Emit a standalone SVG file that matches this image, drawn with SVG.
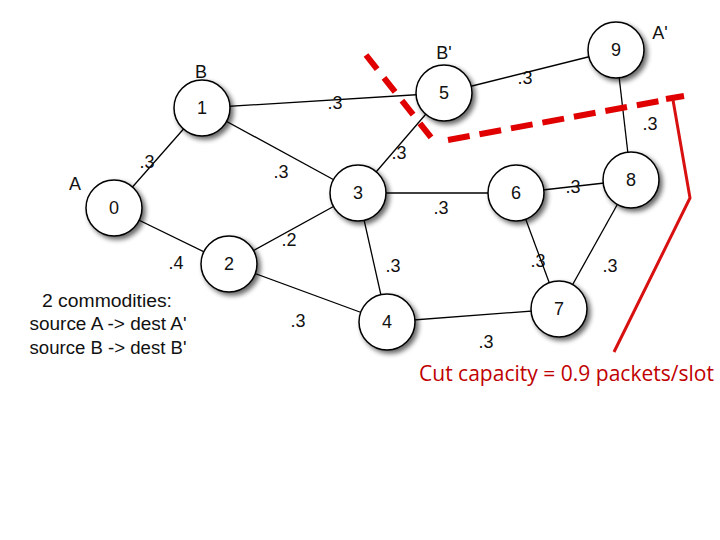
<svg xmlns="http://www.w3.org/2000/svg" width="720" height="540" viewBox="0 0 720 540">
<defs>
<filter id="sh" x="-30%" y="-30%" width="170%" height="170%">
<feGaussianBlur in="SourceAlpha" stdDeviation="2.5"/>
<feOffset dx="3" dy="3" result="b"/>
<feComponentTransfer><feFuncA type="linear" slope="0.6"/></feComponentTransfer>
<feMerge><feMergeNode/><feMergeNode in="SourceGraphic"/></feMerge>
</filter>
<style>
.n circle{fill:#fff;stroke:#000;stroke-width:1.5;filter:url(#sh)}
.n text,.t{font-family:"Liberation Sans",Arial,sans-serif;font-size:18px;fill:#111;text-anchor:middle}
.e line{stroke:#000;stroke-width:1.3}
.cut{stroke:#e00000;stroke-width:6;fill:none}
.br{stroke:#d81010;stroke-width:3;fill:none}
</style>
</defs>
<rect width="720" height="540" fill="#fff"/>
<g id="connectors" class="e">
<line x1="114" y1="208" x2="202" y2="108"/>
<line x1="114" y1="208" x2="229" y2="264"/>
<line x1="202" y1="108" x2="444" y2="93"/>
<line x1="202" y1="108" x2="358" y2="193"/>
<line x1="444" y1="93" x2="358" y2="193"/>
<line x1="444" y1="93" x2="616" y2="50"/>
<line x1="616" y1="50" x2="631" y2="180"/>
<line x1="358" y1="193" x2="516" y2="193"/>
<line x1="516" y1="193" x2="631" y2="180"/>
<line x1="229" y1="264" x2="358" y2="193"/>
<line x1="229" y1="264" x2="387" y2="322"/>
<line x1="358" y1="193" x2="387" y2="322"/>
<line x1="516" y1="193" x2="559" y2="309"/>
<line x1="631" y1="180" x2="559" y2="309"/>
<line x1="387" y1="322" x2="559" y2="309"/>
</g>
<g id="edge-labels" class="t">
<text x="147" y="168">.3</text>
<text x="335" y="109">.3</text>
<text x="281" y="178">.3</text>
<text x="399" y="159">.3</text>
<text x="525" y="84">.3</text>
<text x="650" y="130">.3</text>
<text x="441" y="214">.3</text>
<text x="573" y="193">.3</text>
<text x="176" y="269">.4</text>
<text x="289" y="246">.2</text>
<text x="393" y="272">.3</text>
<text x="538" y="267">.3</text>
<text x="610" y="272">.3</text>
<text x="298" y="327">.3</text>
<text x="486" y="348">.3</text>
</g>
<g id="n0" class="n"><circle cx="114" cy="208" r="28"/><text x="114" y="214">0</text></g>
<g id="n1" class="n"><circle cx="202" cy="108" r="28"/><text x="202" y="114">1</text></g>
<g id="n2" class="n"><circle cx="229" cy="264" r="28"/><text x="229" y="270">2</text></g>
<g id="n3" class="n"><circle cx="358" cy="193" r="28"/><text x="358" y="199">3</text></g>
<g id="n4" class="n"><circle cx="387" cy="322" r="28"/><text x="387" y="328">4</text></g>
<g id="n5" class="n"><circle cx="444" cy="93" r="28"/><text x="444" y="99">5</text></g>
<g id="n6" class="n"><circle cx="516" cy="193" r="28"/><text x="516" y="199">6</text></g>
<g id="n7" class="n"><circle cx="559" cy="309" r="28"/><text x="559" y="315">7</text></g>
<g id="n8" class="n"><circle cx="631" cy="180" r="28"/><text x="631" y="186">8</text></g>
<g id="n9" class="n"><circle cx="616" cy="50" r="28"/><text x="616" y="56">9</text></g>
<g id="node-names" class="t">
<text x="75" y="190">A</text>
<text x="201" y="78">B</text>
<text x="444" y="59">B'</text>
<text x="660" y="39">A'</text>
</g>
<g id="legend" class="t">
<text x="107" y="307" textLength="130" lengthAdjust="spacingAndGlyphs">2 commodities:</text>
<text x="108" y="330" textLength="157" lengthAdjust="spacingAndGlyphs">source A -&gt; dest A'</text>
<text x="108" y="354" textLength="157" lengthAdjust="spacingAndGlyphs">source B -&gt; dest B'</text>
</g>
<g id="cut">
<line class="cut" x1="366" y1="55" x2="437" y2="145" stroke-dasharray="18 11"/>
<line class="cut" x1="448" y1="140" x2="665" y2="100" stroke-dasharray="22 10"/>
<line class="cut" x1="666" y1="99" x2="684" y2="96"/>
<polyline class="br" points="673,100 690,198 614,352"/>
<text x="419" y="381" font-family="'Open Sans','Liberation Sans',sans-serif" font-size="21" fill="#c00000" textLength="295" lengthAdjust="spacingAndGlyphs">Cut capacity = 0.9 packets/slot</text>
</g>
</svg>
